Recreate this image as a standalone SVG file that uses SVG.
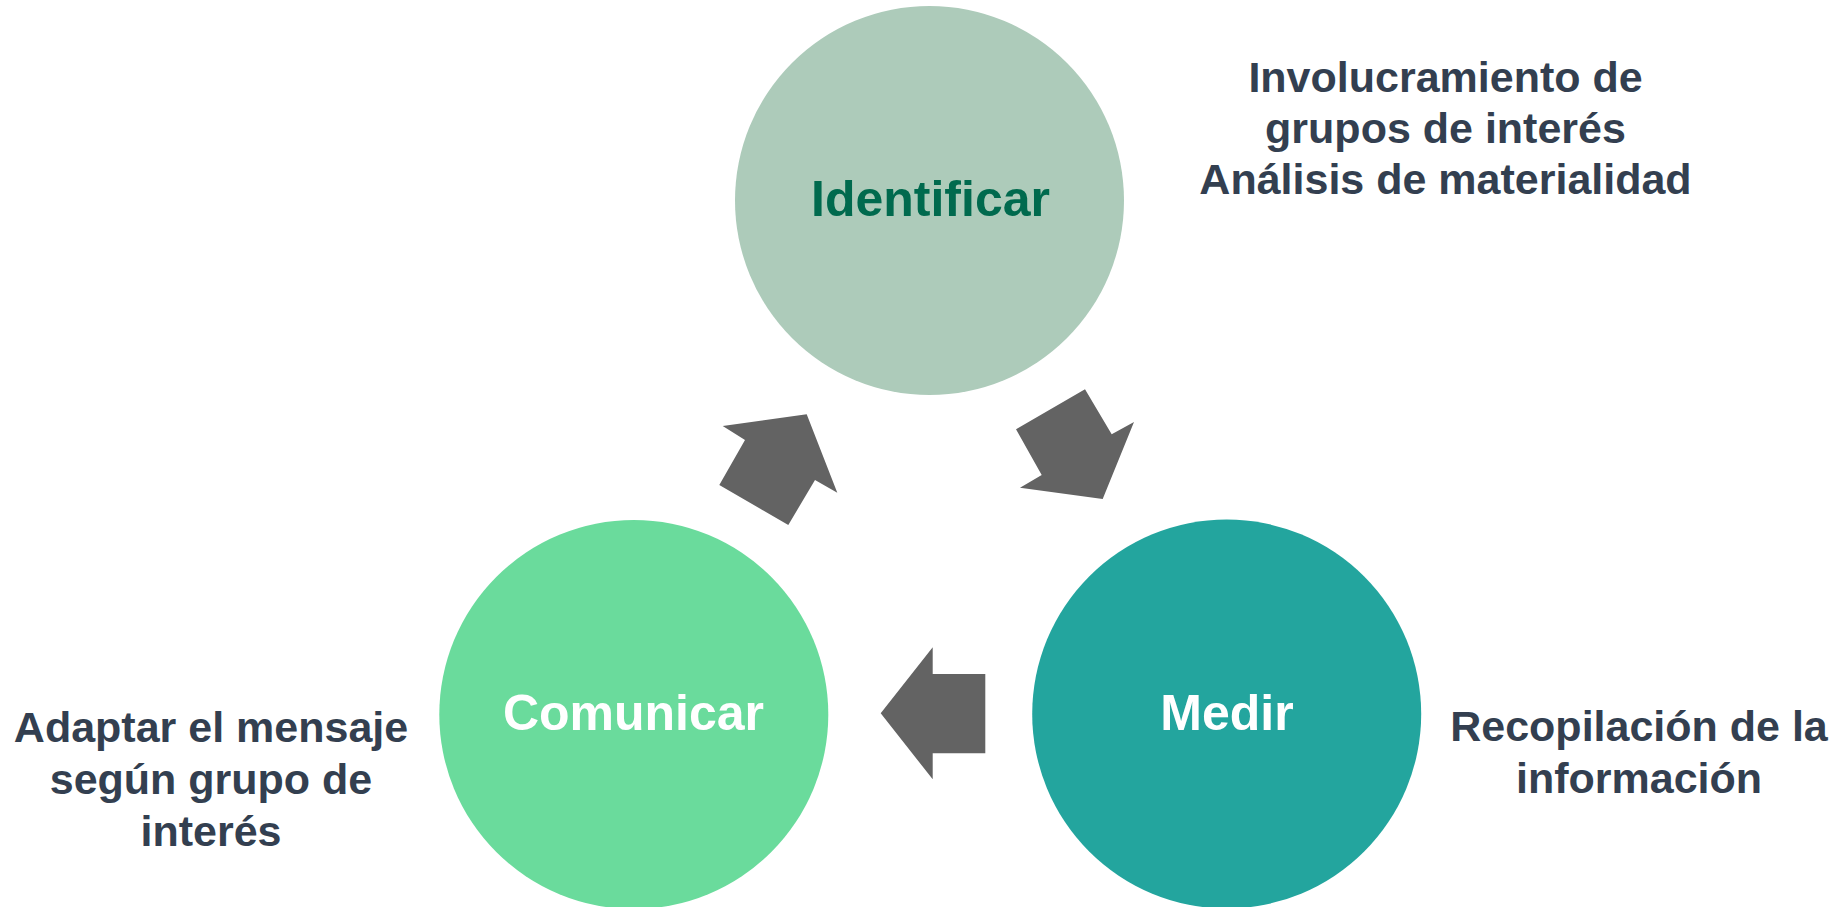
<svg xmlns="http://www.w3.org/2000/svg" width="1834" height="907" viewBox="0 0 1834 907">
<style>
.lbl{font-family:"Liberation Sans",Arial,sans-serif;font-weight:bold;text-anchor:middle}
.node{font-size:50px}
.side{font-size:43px;fill:#333F50}
.arr{fill:#636363}
</style>
<rect width="1834" height="907" fill="#FFFFFF"/>
<g id="connectors">
<polygon class="arr" points="806.7,414.3 837.3,492.7 815,480 788.3,525 719.3,485 745,440 722.7,426"/>
<polygon class="arr" points="1016,429.3 1085,389.3 1111.7,434.3 1134,422 1102.7,499 1020,487.7 1041.7,475"/>
<polygon class="arr" points="880.7,713.3 932.7,647.3 932.7,674 985.3,674 985.3,753.3 932.7,753.3 932.7,779.3"/>
</g>
<g id="identificar">
<circle cx="929.5" cy="200.5" r="194.5" fill="#ADCBBA"/>
<text class="lbl node" x="930.5" y="216" fill="#006A4E">Identificar</text>
</g>
<g id="comunicar">
<circle cx="633.8" cy="714.5" r="194.5" fill="#6ADB9C"/>
<text class="lbl node" x="633.5" y="730" fill="#FFFFFF">Comunicar</text>
</g>
<g id="medir">
<circle cx="1226.7" cy="714" r="194.5" fill="#23A59E"/>
<text class="lbl node" x="1227" y="730" fill="#FFFFFF">Medir</text>
</g>
<g id="note-identificar">
<text class="lbl side" x="1445.5" y="92">Involucramiento de</text>
<text class="lbl side" x="1445.5" y="143">grupos de interés</text>
<text class="lbl side" x="1445.5" y="194">Análisis de materialidad</text>
</g>
<g id="note-comunicar">
<text class="lbl side" x="211" y="742">Adaptar el mensaje</text>
<text class="lbl side" x="211" y="794">según grupo de</text>
<text class="lbl side" x="211" y="846">interés</text>
</g>
<g id="note-medir">
<text class="lbl side" x="1639" y="741">Recopilación de la</text>
<text class="lbl side" x="1639" y="793">información</text>
</g>
</svg>
